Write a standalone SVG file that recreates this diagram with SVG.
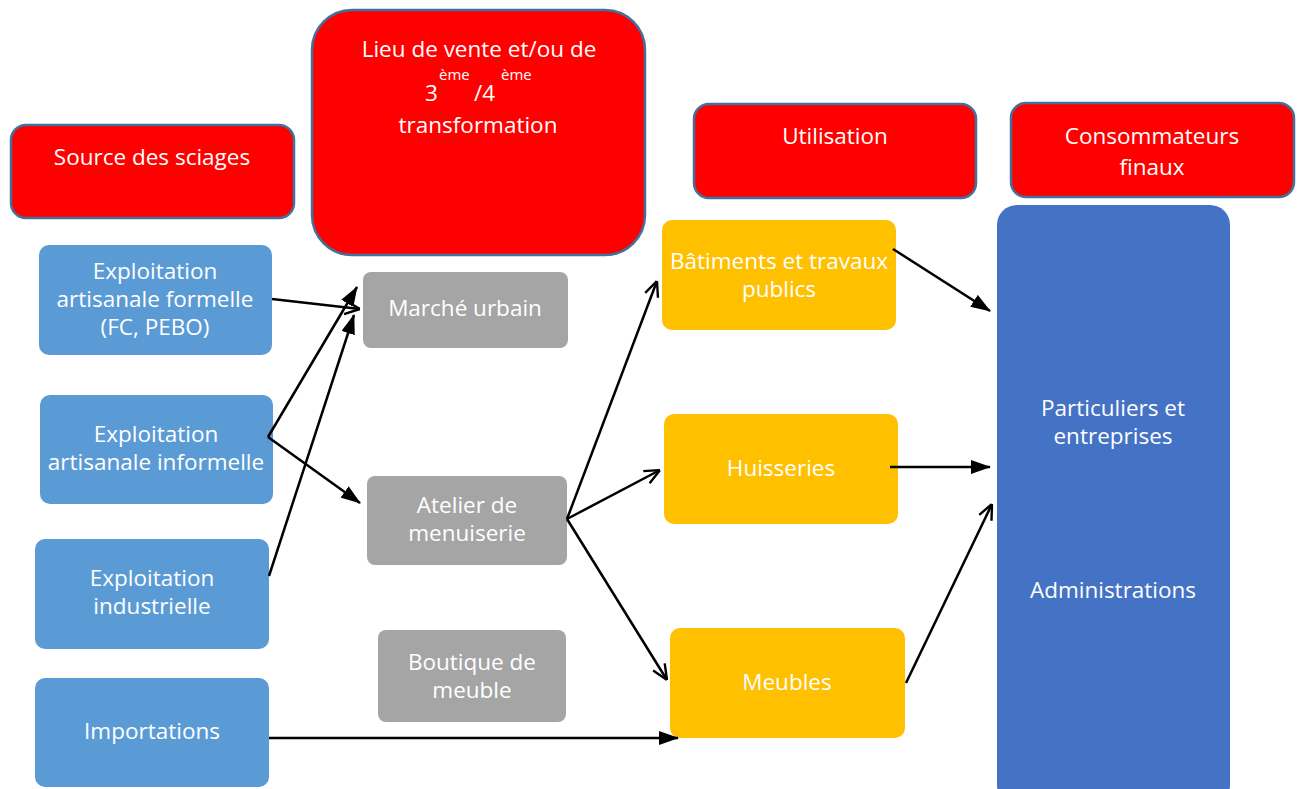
<svg xmlns="http://www.w3.org/2000/svg" width="1298" height="789" viewBox="0 0 1298 789">
<defs>
<style>
text{font-family:"Open Sans","Noto Sans","Liberation Sans",sans-serif;fill:#fff;font-size:22.5px;text-anchor:middle}
.sup{font-size:15px;text-anchor:start}
.st{text-anchor:start}
.red{fill:#ff0000;stroke:#41719c;stroke-width:2.5}
.blue{fill:#5b9bd5}
.grey{fill:#a5a5a5}
.yel{fill:#ffc000}
.dark{fill:#4472c4}
.c{stroke:#000;stroke-width:2.5;fill:none}
.f{marker-end:url(#fa)}
.o{marker-end:url(#oa)}
</style>
<marker id="fa" viewBox="0 0 20 14" refX="19" refY="7" markerWidth="20" markerHeight="14" markerUnits="userSpaceOnUse" orient="auto">
<path d="M0,0 L20,7 L0,14 Z" fill="#000"/>
</marker>
<marker id="oa" viewBox="0 0 10 10" refX="10" refY="5" markerWidth="17" markerHeight="17" markerUnits="userSpaceOnUse" orient="auto">
<path d="M1,1 L10,5 L1,9" fill="none" stroke="#000" stroke-width="1.4"/>
</marker>
</defs>
<rect width="1298" height="789" fill="#fff"/>
<g id="h-source"><rect class="red" x="11" y="125" width="283" height="93" rx="15"/><text x="152" y="165">Source des sciages</text></g>
<g id="h-lieu"><rect class="red" x="312" y="10" width="333" height="245" rx="40"/>
<text x="479" y="57">Lieu de vente et/ou de</text>
<text class="st" x="425" y="101">3</text><text class="sup" x="439" y="80">ème</text>
<text class="st" x="474" y="101">/4</text><text class="sup" x="501" y="80">ème</text>
<text x="478" y="133">transformation</text></g>
<g id="h-util"><rect class="red" x="694" y="104" width="282" height="94" rx="15"/><text x="835" y="144">Utilisation</text></g>
<g id="h-conso"><rect class="red" x="1011" y="103" width="283" height="94" rx="15"/><text x="1152" y="144">Consommateurs</text><text x="1152" y="175">finaux</text></g>

<g id="n-formelle"><rect class="blue" x="39" y="245" width="233" height="110" rx="10"/><text x="155" y="279">Exploitation</text><text x="155" y="307">artisanale formelle</text><text x="155" y="335">(FC, PEBO)</text></g>
<g id="n-informelle"><rect class="blue" x="40" y="395" width="233" height="109" rx="10"/><text x="156" y="442">Exploitation</text><text x="156" y="470">artisanale informelle</text></g>
<g id="n-industrielle"><rect class="blue" x="35" y="539" width="234" height="110" rx="10"/><text x="152" y="586">Exploitation</text><text x="152" y="614">industrielle</text></g>
<g id="n-import"><rect class="blue" x="35" y="678" width="234" height="109" rx="10"/><text x="152" y="739">Importations</text></g>

<g id="n-marche"><rect class="grey" x="363" y="272" width="205" height="76" rx="8"/><text x="465" y="316">Marché urbain</text></g>
<g id="n-atelier"><rect class="grey" x="367" y="476" width="200" height="89" rx="8"/><text x="467" y="513">Atelier de</text><text x="467" y="541">menuiserie</text></g>
<g id="n-boutique"><rect class="grey" x="378" y="630" width="188" height="92" rx="8"/><text x="472" y="670">Boutique de</text><text x="472" y="698">meuble</text></g>

<g id="n-btp"><rect class="yel" x="662" y="220" width="234" height="110" rx="10"/><text x="779" y="269">Bâtiments et travaux</text><text x="779" y="297">publics</text></g>
<g id="n-huis"><rect class="yel" x="664" y="414" width="234" height="110" rx="10"/><text x="781" y="476">Huisseries</text></g>
<g id="n-meubles"><rect class="yel" x="670" y="628" width="235" height="110" rx="10"/><text x="787" y="690">Meubles</text></g>

<g id="n-conso"><rect class="dark" x="997" y="205" width="233" height="600" rx="20"/><text x="1113" y="416">Particuliers et</text><text x="1113" y="444">entreprises</text><text x="1113" y="598">Administrations</text></g>

<g id="connectors">
<line class="c o" x1="272" y1="299" x2="360" y2="309"/>
<line class="c f" x1="268" y1="437" x2="357" y2="287"/>
<line class="c f" x1="269" y1="576" x2="354" y2="315"/>
<line class="c f" x1="268" y1="437" x2="360" y2="503"/>
<line class="c o" x1="567" y1="519" x2="657" y2="281"/>
<line class="c o" x1="567" y1="519" x2="660" y2="470"/>
<line class="c o" x1="567" y1="519" x2="667" y2="680"/>
<line class="c f" x1="893" y1="249" x2="990" y2="311"/>
<line class="c f" x1="890" y1="467" x2="990" y2="467"/>
<line class="c f" x1="269" y1="738" x2="678" y2="738"/>
<line class="c o" x1="906" y1="683" x2="992" y2="504"/>
</g>
</svg>
